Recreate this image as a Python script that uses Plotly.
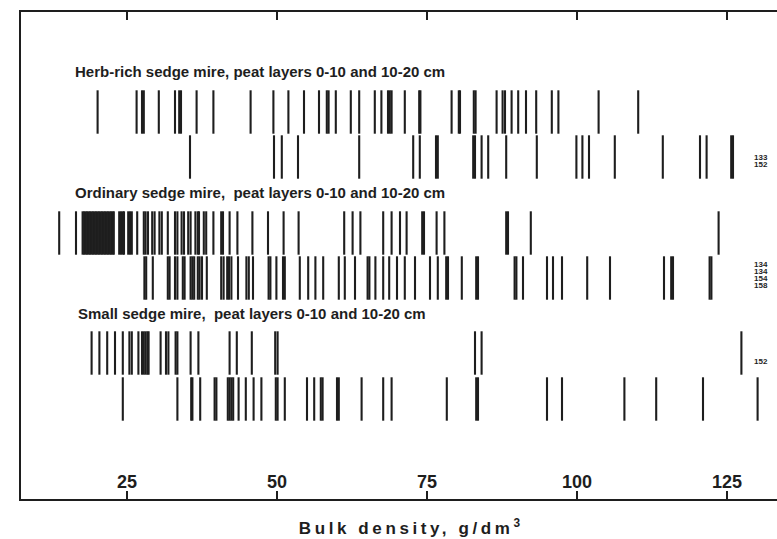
import plotly.graph_objects as go

# ---------------- data (bulk density, g/dm3) ----------------
herb_0_10 = [20.1, 26.6, 27.5, 27.8, 30.3, 33.0, 33.7, 34.0, 36.6, 39.4, 45.6, 49.4,
             51.9, 54.5, 57.0, 58.3, 58.6, 59.8, 62.3, 63.7, 66.3, 67.4, 68.5, 68.8,
             69.1, 71.3, 73.7, 73.9, 79.1, 80.3, 80.5, 82.8, 83.1, 86.6, 87.6, 88.0,
             89.1, 90.2, 91.5, 93.2, 95.8, 96.9, 103.6, 110.2]
herb_10_20 = [35.5, 49.5, 50.8, 53.5, 63.7, 72.7, 73.8, 76.5, 76.8, 82.7, 83.0, 84.1,
              85.2, 88.2, 93.3, 99.9, 100.9, 102.0, 106.3, 114.3, 120.5, 121.6, 125.7, 126.0]
ordinary_0_10 = [13.7, 16.5, 17.6, 17.85, 18.1, 18.35, 18.6, 18.85, 19.1, 19.35, 19.6,
                 19.85, 20.1, 20.35, 20.6, 20.85, 21.1, 21.35, 21.6, 21.85, 22.1, 22.35,
                 22.6, 22.8, 23.7, 24.0, 24.3, 24.5, 25.2, 25.5, 25.8, 26.7, 27.8, 28.1,
                 28.5, 29.2, 29.6, 30.4, 30.8, 31.8, 33.0, 33.4, 34.1, 34.5, 35.2, 35.6,
                 36.4, 36.8, 37.0, 37.8, 38.2, 39.4, 40.7, 41.0, 42.1, 43.4, 45.9, 48.5,
                 51.1, 53.6, 61.2, 62.6, 63.9, 67.7, 69.1, 70.5, 71.6, 74.2, 74.5, 76.6,
                 77.9, 88.2, 88.5, 92.3, 123.6]
ordinary_10_20 = [27.9, 28.2, 29.3, 31.8, 32.1, 33.0, 33.4, 34.3, 34.6, 35.6, 35.9, 36.2,
                  36.8, 37.1, 37.5, 38.3, 40.7, 41.1, 41.7, 42.0, 42.4, 43.5, 44.9, 45.3,
                  46.0, 48.6, 48.9, 49.9, 51.0, 51.3, 53.8, 55.2, 56.4, 57.7, 60.3, 61.3,
                  63.0, 65.1, 65.4, 66.4, 67.7, 68.7, 70.0, 71.3, 73.0, 75.5, 76.8, 78.2,
                  78.5, 80.8, 83.2, 83.5, 89.6, 89.9, 91.0, 95.0, 96.0, 97.5, 101.7, 105.5,
                  114.5, 115.7, 116.0, 122.1, 122.4]
small_0_10 = [19.1, 20.4, 21.7, 23.0, 24.3, 25.4, 25.8, 26.9, 27.5, 27.8, 28.1, 28.4,
              28.6, 30.6, 31.5, 31.9, 33.1, 33.4, 35.6, 36.9, 42.1, 43.3, 45.8, 49.7,
              50.1, 83.0, 84.1, 127.4]
small_10_20 = [24.3, 33.4, 35.7, 35.9, 37.2, 39.6, 39.9, 41.8, 42.1, 42.4, 42.7, 43.6,
               44.8, 46.1, 47.4, 49.8, 50.1, 51.3, 55.0, 56.2, 57.3, 57.6, 60.0, 60.3,
               64.1, 67.7, 69.1, 78.3, 83.2, 83.5, 95.0, 97.5, 107.9, 113.2, 121.0, 130.1]

# values beyond the axis, written at the right end of a row
offscale_herb_10_20 = ["133", "152"]
offscale_ordinary_10_20 = ["134", "134", "154", "158"]
offscale_small_0_10 = ["152"]

group_titles = ["Herb-rich sedge mire, peat layers 0-10 and 10-20 cm",
                "Ordinary sedge mire,  peat layers 0-10 and 10-20 cm",
                "Small sedge mire,  peat layers 0-10 and 10-20 cm"]
tick_values = [25, 50, 75, 100, 125]
axis_title = "Bulk density, g/dm<sup>3</sup>"

# ---------------- layout (positions / styles) ----------------
W, H = 777, 539
ML, MR, MT, MB = 21, 0, 12, 40
XR = [7.333, 133.333]
ROW_Y = [112, 157, 233, 278, 353, 399]      # row centres (y axis in px-like units)
TITLE_Y = [71, 192, 313]
TITLE_X = [16.0, 16.0, 16.5]
INK = "#1e1e1e"
FONT = "Liberation Sans, Arial, sans-serif"

rows = [herb_0_10, herb_10_20, ordinary_0_10, ordinary_10_20, small_0_10, small_10_20]

fig = go.Figure()
for vals, yc in zip(rows, ROW_Y):
    fig.add_trace(go.Scatter(
        x=vals, y=[yc] * len(vals), mode="markers",
        marker=dict(symbol="line-ns", size=31, color=INK,
                    line=dict(width=2.1, color=INK)),
        hoverinfo="skip", showlegend=False))

ann = []
for t, xv, yv in zip(group_titles, TITLE_X, TITLE_Y):
    ann.append(dict(text=t, x=xv, y=yv, xref="x", yref="y", xanchor="left",
                    yanchor="middle", showarrow=False,
                    font=dict(family=FONT, size=15, color=INK, weight="bold")))

def add_offscale(labels, y0, step):
    for i, lab in enumerate(labels):
        ann.append(dict(text=lab, x=130.7, y=y0 + i * step, xref="x", yref="y",
                        xanchor="center", yanchor="middle", showarrow=False,
                        font=dict(family=FONT, size=8, color=INK, weight="bold")))

add_offscale(offscale_herb_10_20, 157, 7.5)
add_offscale(offscale_ordinary_10_20, 264, 7.3)
add_offscale(offscale_small_0_10, 361, 7.0)

ann.append(dict(text=axis_title, x=(411 - ML) / (W - ML - MR), y=(H - MB - 527) / (H - MT - MB),
                xref="paper", yref="paper", xanchor="center", yanchor="middle",
                showarrow=False,
                font=dict(family=FONT, size=17, color=INK, weight="bold")))

fig.update_layout(
    width=W, height=H,
    margin=dict(l=ML, r=MR, t=MT, b=MB, pad=0),
    paper_bgcolor="white", plot_bgcolor="white",
    annotations=ann,
    xaxis=dict(range=XR, tickvals=tick_values, ticktext=[str(v) for v in tick_values],
               ticks="inside", ticklen=8, tickwidth=2, tickcolor=INK,
               ticklabelposition="inside",
               tickfont=dict(family=FONT, size=18, color=INK, weight="bold"),
               showline=True, linewidth=2, linecolor=INK, mirror="ticks",
               showgrid=False, zeroline=False, fixedrange=True),
    yaxis=dict(range=[H - MB, MT], showticklabels=False, ticks="",
               showline=True, linewidth=2, linecolor=INK, mirror=False,
               showgrid=False, zeroline=False, fixedrange=True),
)

post = """
document.querySelectorAll('.annotation-text').forEach(function(t){
  if (t.textContent.indexOf('Bulk') === 0) { t.style.letterSpacing = '3.6px'; }
});
"""
fig.write_html("out.html", post_script=post)
